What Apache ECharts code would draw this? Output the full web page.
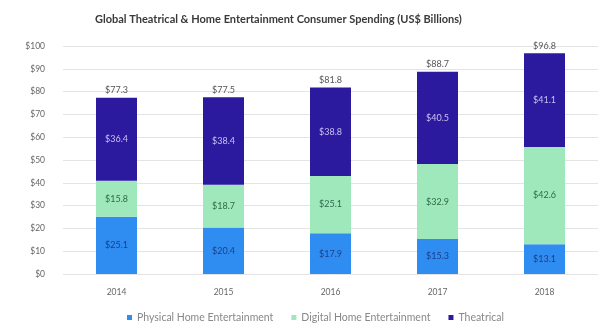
<!DOCTYPE html>
<html>
<head>
<meta charset="utf-8">
<script src="https://cdn.jsdelivr.net/npm/echarts@6/dist/echarts.min.js"></script>
<style>
  html, body { margin: 0; padding: 0; background: #ffffff; }
  #chart { width: 605px; height: 329px; }
</style>
</head>
<body>
<div id="chart"></div>
<script>
// Consumer spending by year, US$ billions
const years = ['2014', '2015', '2016', '2017', '2018'];
const physical = [25.1, 20.4, 17.9, 15.3, 13.1];
const digital = [15.8, 18.7, 25.1, 32.9, 42.6];
const theatrical = [36.4, 38.4, 38.8, 40.5, 41.1];
const yTicks = [0, 10, 20, 30, 40, 50, 60, 70, 80, 90, 100];

const totals = years.map((_, i) =>
  Math.round((physical[i] + digital[i] + theatrical[i]) * 10) / 10);

const money = v => '$' + v.toFixed(1);
const FONT = 'Lato, "Open Sans", sans-serif';

const chart = echarts.init(document.getElementById('chart'), null, { renderer: 'canvas' });

function segment(name, data, color, labelColor) {
  return {
    name: name,
    type: 'bar',
    stack: 'total',
    data: data,
    barWidth: 41,
    itemStyle: { color: color },
    label: {
      show: true,
      position: 'inside',
      formatter: p => money(p.value),
      color: labelColor,
      fontFamily: FONT,
      fontSize: 9
    },
    emphasis: { disabled: true }
  };
}

chart.setOption({
  animation: false,
  backgroundColor: '#ffffff',
  title: {
    text: 'Global Theatrical & Home Entertainment Consumer Spending (US$ Billions)',
    left: 90,
    top: 9,
    textStyle: { fontFamily: FONT, fontSize: 11, fontWeight: 'bold', color: '#3a3a3a' }
  },
  grid: { left: 63, right: 7, top: 46, bottom: 55, containLabel: false },
  legend: {
    bottom: 1,
    left: 122,
    itemWidth: 5,
    itemHeight: 5,
    itemGap: 18,
    icon: 'rect',
    data: ['Physical Home Entertainment', 'Digital Home Entertainment', 'Theatrical'],
    textStyle: { fontFamily: FONT, fontSize: 10.5, color: '#888888' }
  },
  xAxis: {
    type: 'category',
    data: years,
    axisLine: { show: false },
    axisTick: { show: false },
    axisLabel: { fontFamily: FONT, fontSize: 8.5, color: '#666666', margin: 14 }
  },
  yAxis: {
    type: 'value',
    min: yTicks[0],
    max: yTicks[yTicks.length - 1],
    interval: 10,
    axisLine: { show: false },
    axisTick: { show: false },
    splitLine: { lineStyle: { color: '#e4e4e4', width: 1 } },
    axisLabel: {
      fontFamily: FONT, fontSize: 8.5, color: '#666666', margin: 18,
      formatter: v => '$' + v
    }
  },
  series: [
    segment('Physical Home Entertainment', physical, '#2f8df2', '#1b3f86'),
    segment('Digital Home Entertainment', digital, '#9fe8bb', '#2f6a4a'),
    segment('Theatrical', theatrical, '#2b1a9e', '#c9c2f2'),
    {
      name: 'Total',
      type: 'bar',
      data: totals,
      barWidth: 41,
      barGap: '-100%',
      z: 0,
      itemStyle: { color: 'rgba(0,0,0,0)' },
      label: {
        show: true,
        position: 'top',
        distance: 3,
        formatter: p => money(p.value),
        color: '#555555',
        fontFamily: FONT,
        fontSize: 9
      },
      emphasis: { disabled: true }
    }
  ]
});
</script>
</body>
</html>
